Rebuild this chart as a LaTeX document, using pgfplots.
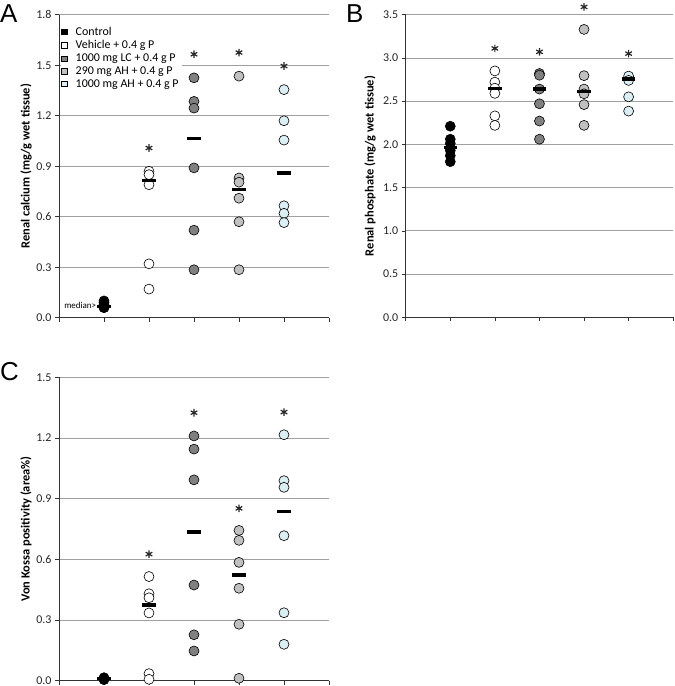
\documentclass[border=0pt]{standalone}
\usepackage{pgfplots}
\pgfplotsset{compat=1.18}
\usepackage{fontspec}
\setmainfont{Carlito}
\newfontfamily\letterfont{Liberation Sans}
\definecolor{cLC}{HTML}{808080}
\definecolor{cAHa}{HTML}{C0C0C0}
\definecolor{cAHb}{HTML}{DBEEF4}
\definecolor{gridc}{HTML}{A0A0A0}
\pgfplotsset{
  ax/.style={scale only axis, xmin=0, xmax=6, ymin=0,
    xtick={0,...,6}, xticklabels={},
    tick align=outside, major tick length=4bp,
    tick style={black!80, line width=0.6bp},
    axis x line*=bottom, axis y line*=left,
    axis line style={-, black!80, line width=0.7bp},
    ymajorgrids, grid style={gridc, line width=0.7bp},
    ylabel style={font=\bfseries\fontsize{12.5}{14}\selectfont, anchor=center},
    tick label style={font=\fontsize{12}{12}\selectfont, text=black!85, inner ysep=0pt},
    yticklabel style={/pgf/number format/.cd, fixed, fixed zerofill, precision=1},
    /pgf/number format/assume math mode=true,
    clip=false},
  dot/.style={only marks, mark=*, mark size=5bp, forget plot,
    mark options={draw=black, line width=0.6bp, fill=#1}},
  med/.style={only marks, mark=-, mark size=6.7bp, forget plot,
    mark options={line width=3.3bp, draw=black}},
  star/.style={only marks, mark=asterisk, mark size=3.8bp, forget plot,
    mark options={line width=1.2bp, draw=black!85}},
}
\begin{document}
\begin{tikzpicture}
\useasboundingbox (0,0) rectangle (675bp,-686bp);
\node[anchor=base west, inner sep=0pt, font=\letterfont\fontsize{26}{26}\selectfont] at (0bp,-22.7bp) {A};
\node[anchor=base west, inner sep=0pt, font=\letterfont\fontsize{26}{26}\selectfont] at (346bp,-22.7bp) {B};
\node[anchor=base west, inner sep=0pt, font=\letterfont\fontsize{26}{26}\selectfont] at (0bp,-380bp) {C};
% Panel A
\begin{axis}[ax, at={(59bp,-317.7bp)}, anchor=south west, width=270bp, height=303bp,
  ymax=1.8, ytick={0,0.3,...,1.81},
  ylabel={Renal calcium (mg/g wet tissue)},
  ylabel style={at={(axis description cs:-0.122,0.5)}},
  legend style={at={(axis description cs:0.005,0.97)}, anchor=north west, draw=none, fill=white,
    inner sep=1bp, font=\fontsize{12}{12}\selectfont, row sep=-0.4bp,
    /tikz/every odd column/.append style={column sep=7bp}},
  legend cell align=left]
\addlegendimage{only marks, mark=square*, mark size=2.6bp, mark options={draw=black, line width=0.5bp, fill=black}}
\addlegendentry{Control}
\addlegendimage{only marks, mark=square*, mark size=2.6bp, mark options={draw=black, line width=0.5bp, fill=white}}
\addlegendentry{Vehicle + 0.4 g P}
\addlegendimage{only marks, mark=square*, mark size=2.6bp, mark options={draw=black, line width=0.5bp, fill=cLC}}
\addlegendentry{1000 mg LC + 0.4 g P}
\addlegendimage{only marks, mark=square*, mark size=2.6bp, mark options={draw=black, line width=0.5bp, fill=cAHa}}
\addlegendentry{290 mg AH + 0.4 g P}
\addlegendimage{only marks, mark=square*, mark size=2.6bp, mark options={draw=black, line width=0.5bp, fill=cAHb}}
\addlegendentry{1000 mg AH + 0.4 g P}
\addplot[dot=black] coordinates {(1,0.10) (1,0.09) (1,0.08) (1,0.07) (1,0.06) (1,0.06)};
\addplot[dot=white] coordinates {(2,0.87) (2,0.85) (2,0.79) (2,0.32) (2,0.17)};
\addplot[dot=cLC] coordinates {(3,1.425) (3,1.285) (3,1.245) (3,0.89) (3,0.52) (3,0.285)};
\addplot[dot=cAHa] coordinates {(4,1.435) (4,0.83) (4,0.805) (4,0.71) (4,0.57) (4,0.285)};
\addplot[dot=cAHb] coordinates {(5,1.355) (5,1.17) (5,1.055) (5,0.665) (5,0.62) (5,0.565)};
\addplot[med] coordinates {(1,0.065) (2,0.815) (3,1.065) (4,0.76) (5,0.86)};
\addplot[star] coordinates {(2,1.008) (3,1.565) (4,1.575) (5,1.495)};
\node[anchor=east, inner sep=0pt, font=\fontsize{9}{9}\selectfont] at (axis cs:0.83,0.075) {median>};
\end{axis}
% Panel B
\begin{axis}[ax, at={(405.7bp,-317.3bp)}, anchor=south west, width=267.5bp, height=302.6bp,
  ymax=3.5, ytick={0,0.5,...,3.51},
  ylabel={Renal phosphate (mg/g wet tissue)},
  ylabel style={at={(axis description cs:-0.133,0.5)}}]
\addplot[dot=black] coordinates {(1,2.21) (1,2.06) (1,2.01) (1,1.93) (1,1.87) (1,1.80)};
\addplot[dot=white] coordinates {(2,2.85) (2,2.72) (2,2.65) (2,2.59) (2,2.33) (2,2.22)};
\addplot[dot=cLC] coordinates {(3,2.82) (3,2.80) (3,2.64) (3,2.47) (3,2.27) (3,2.06)};
\addplot[dot=cAHa] coordinates {(4,3.33) (4,2.795) (4,2.64) (4,2.585) (4,2.46) (4,2.22)};
\addplot[dot=cAHb] coordinates {(5,2.79) (5,2.74) (5,2.55) (5,2.385)};
\addplot[med] coordinates {(1,1.965) (2,2.645) (3,2.64) (4,2.61) (5,2.755)};
\addplot[star] coordinates {(2,3.11) (3,3.07) (4,3.59) (5,3.05)};
\end{axis}
% Panel C
\begin{axis}[ax, at={(59bp,-680.7bp)}, anchor=south west, width=270bp, height=303.4bp,
  ymax=1.5, ytick={0,0.3,...,1.51},
  ylabel={Von Kossa positivity (area\%)},
  ylabel style={at={(axis description cs:-0.122,0.5)}}]
\addplot[dot=black] coordinates {(1,0.015) (1,0.01) (1,0.005)};
\addplot[dot=white] coordinates {(2,0.515) (2,0.43) (2,0.41) (2,0.335) (2,0.035) (2,0.007)};
\addplot[dot=cLC] coordinates {(3,1.21) (3,1.145) (3,0.993) (3,0.473) (3,0.227) (3,0.147)};
\addplot[dot=cAHa] coordinates {(4,0.743) (4,0.694) (4,0.585) (4,0.457) (4,0.279) (4,0.012)};
\addplot[dot=cAHb] coordinates {(5,1.216) (5,0.989) (5,0.956) (5,0.717) (5,0.336) (5,0.18)};
\addplot[med] coordinates {(1,0.01) (2,0.375) (3,0.735) (4,0.523) (5,0.837)};
\addplot[star] coordinates {(2,0.626) (3,1.325) (4,0.852) (5,1.328)};
\end{axis}
\end{tikzpicture}
\end{document}
